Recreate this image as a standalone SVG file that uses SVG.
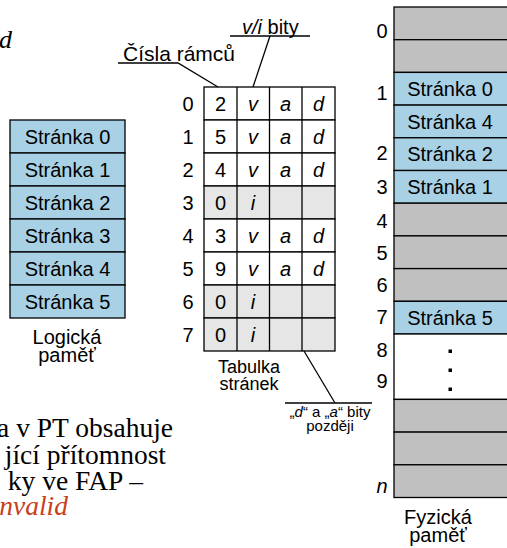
<svg xmlns="http://www.w3.org/2000/svg" width="507" height="548" viewBox="0 0 507 548">
  <style>
    .sans { font-family: "Liberation Sans", Arial, sans-serif; fill: #000; }
    .serif { font-family: "Liberation Serif", "Times New Roman", serif; }
    .cell { stroke: #000; stroke-width: 1.3; }
    .page { fill: #a9d1e5; }
    .free { fill: #c0c0c0; }
    .valid { fill: #ffffff; }
    .invalid { fill: #e6e6e6; }
    .lbl { font-size: 20px; text-anchor: middle; }
    .it { font-style: italic; }
    .line { stroke: #000; stroke-width: 1.3; fill: none; }
  </style>

  <!-- Fragment of explanatory text on the left -->
  <g id="note" class="serif" font-size="27.5">
    <text x="12" y="48" class="it" text-anchor="end" fill="#000" font-size="26">d</text>
    <text x="173" y="437" text-anchor="end" fill="#000">a v PT obsahuje</text>
    <text x="166" y="463.5" text-anchor="end" fill="#000">jící přítomnost</text>
    <text x="143" y="490" text-anchor="end" fill="#000">ky ve FAP –</text>
    <text x="68" y="515" text-anchor="end" class="it" fill="#c8401a">nvalid</text>
  </g>

  <!-- Logical memory -->
  <g id="logical-memory">
    <rect class="cell page" x="10" y="120" width="115" height="33"/>
    <rect class="cell page" x="10" y="153" width="115" height="33"/>
    <rect class="cell page" x="10" y="186" width="115" height="33"/>
    <rect class="cell page" x="10" y="219" width="115" height="33"/>
    <rect class="cell page" x="10" y="252" width="115" height="33"/>
    <rect class="cell page" x="10" y="285" width="115" height="33"/>
    <g class="sans lbl">
      <text x="67.5" y="143.5">Stránka 0</text>
      <text x="67.5" y="176.5">Stránka 1</text>
      <text x="67.5" y="209.5">Stránka 2</text>
      <text x="67.5" y="242.5">Stránka 3</text>
      <text x="67.5" y="275.5">Stránka 4</text>
      <text x="67.5" y="308.5">Stránka 5</text>
      <text x="67" y="344">Logická</text>
      <text x="67" y="362">paměť</text>
    </g>
  </g>

  <!-- Page table -->
  <g id="page-table">
    <g>
      <rect class="cell valid" x="204" y="87" width="131" height="33"/>
      <rect class="cell valid" x="204" y="120" width="131" height="33"/>
      <rect class="cell valid" x="204" y="153" width="131" height="33"/>
      <rect class="cell invalid" x="204" y="186" width="131" height="33"/>
      <rect class="cell valid" x="204" y="219" width="131" height="33"/>
      <rect class="cell valid" x="204" y="252" width="131" height="33"/>
      <rect class="cell invalid" x="204" y="285" width="131" height="33"/>
      <rect class="cell invalid" x="204" y="318" width="131" height="33"/>
      <line class="line" x1="237" y1="87" x2="237" y2="351"/>
      <line class="line" x1="269.5" y1="87" x2="269.5" y2="351"/>
      <line class="line" x1="302" y1="87" x2="302" y2="351"/>
    </g>
    <g class="sans lbl">
      <!-- row indices -->
      <text x="188" y="110.5">0</text>
      <text x="188" y="143.5">1</text>
      <text x="188" y="176.5">2</text>
      <text x="188" y="209.5">3</text>
      <text x="188" y="242.5">4</text>
      <text x="188" y="275.5">5</text>
      <text x="188" y="308.5">6</text>
      <text x="188" y="341.5">7</text>
      <!-- frame numbers -->
      <text x="220.5" y="110.5">2</text>
      <text x="220.5" y="143.5">5</text>
      <text x="220.5" y="176.5">4</text>
      <text x="220.5" y="209.5">0</text>
      <text x="220.5" y="242.5">3</text>
      <text x="220.5" y="275.5">9</text>
      <text x="220.5" y="308.5">0</text>
      <text x="220.5" y="341.5">0</text>
    </g>
    <g class="sans lbl it">
      <text x="253" y="110.5">v</text><text x="285.5" y="110.5">a</text><text x="318.5" y="110.5">d</text>
      <text x="253" y="143.5">v</text><text x="285.5" y="143.5">a</text><text x="318.5" y="143.5">d</text>
      <text x="253" y="176.5">v</text><text x="285.5" y="176.5">a</text><text x="318.5" y="176.5">d</text>
      <text x="253" y="209.5">i</text>
      <text x="253" y="242.5">v</text><text x="285.5" y="242.5">a</text><text x="318.5" y="242.5">d</text>
      <text x="253" y="275.5">v</text><text x="285.5" y="275.5">a</text><text x="318.5" y="275.5">d</text>
      <text x="253" y="308.5">i</text>
      <text x="253" y="341.5">i</text>
    </g>
    <g class="sans" font-size="18" text-anchor="middle">
      <text x="249" y="373">Tabulka</text>
      <text x="249" y="390">stránek</text>
    </g>
  </g>

  <!-- Physical memory -->
  <g id="physical-memory">
    <rect class="cell free" x="394" y="7" width="120" height="32.7"/>
    <rect class="cell free" x="394" y="39.7" width="120" height="32.7"/>
    <rect class="cell page" x="394" y="72.4" width="120" height="32.7"/>
    <rect class="cell page" x="394" y="105.1" width="120" height="32.7"/>
    <rect class="cell page" x="394" y="137.8" width="120" height="32.7"/>
    <rect class="cell page" x="394" y="170.5" width="120" height="32.7"/>
    <rect class="cell free" x="394" y="203.2" width="120" height="32.7"/>
    <rect class="cell free" x="394" y="235.9" width="120" height="32.7"/>
    <rect class="cell free" x="394" y="268.6" width="120" height="32.7"/>
    <rect class="cell page" x="394" y="301.3" width="120" height="32.7"/>
    <rect class="cell valid" x="394" y="334" width="120" height="65.4"/>
    <rect class="cell free" x="394" y="399.4" width="120" height="32.7"/>
    <rect class="cell free" x="394" y="432.1" width="120" height="32.7"/>
    <rect class="cell free" x="394" y="464.8" width="120" height="32.7"/>
    <g fill="#000">
      <rect x="448.5" y="349.5" width="3.5" height="3.5"/>
      <rect x="448.5" y="368.5" width="3.5" height="3.5"/>
      <rect x="448.5" y="387.5" width="3.5" height="3.5"/>
    </g>
    <g class="sans lbl">
      <text x="450" y="96">Stránka 0</text>
      <text x="450" y="128.7">Stránka 4</text>
      <text x="450" y="161.4">Stránka 2</text>
      <text x="450" y="194.1">Stránka 1</text>
      <text x="450" y="324.9">Stránka 5</text>
      <text x="382" y="38">0</text>
      <text x="382" y="100">1</text>
      <text x="382" y="160">2</text>
      <text x="382" y="194">3</text>
      <text x="382" y="228">4</text>
      <text x="382" y="260">5</text>
      <text x="382" y="292">6</text>
      <text x="382" y="324">7</text>
      <text x="382" y="357">8</text>
      <text x="382" y="388">9</text>
      <text x="382" y="493" class="it">n</text>
      <text x="438" y="524">Fyzická</text>
      <text x="438" y="542">paměť</text>
    </g>
  </g>

  <!-- Callout labels with leader lines -->
  <g id="connectors">
    <polyline class="line" points="118,63 178,63 218,87"/>
    <polyline class="line" points="230,36 310,36"/>
    <line class="line" x1="270" y1="36" x2="253" y2="87"/>
    <polyline class="line" points="304,351 335,403"/>
    <line class="line" x1="285" y1="403" x2="372" y2="403"/>
  </g>
  <g id="callout-frames" class="sans" font-size="21">
    <text x="123" y="61">Čísla rámců</text>
  </g>
  <g id="callout-vi" class="sans" font-size="20">
    <text x="242" y="34"><tspan class="it">v/i</tspan> bity</text>
  </g>
  <g id="callout-da" class="sans" font-size="15" text-anchor="middle">
    <text x="330" y="416.5">„<tspan class="it">d</tspan>“ a „<tspan class="it">a</tspan>“ bity</text>
    <text x="330" y="431">později</text>
  </g>
</svg>
